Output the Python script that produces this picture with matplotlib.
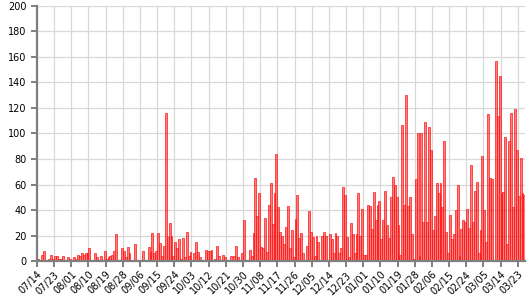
import numpy as np
import pandas as pd
import matplotlib
matplotlib.use('Agg')
import matplotlib.pyplot as plt

# daily counts starting 07/14 (one value per day)
start_date = '2022-07-14'
counts = [
    2, 0, 5, 8, 0, 1, 2, 5, 2, 4, 4, 2, 2, 4, 0, 0, 3, 2, 1, 3,
    2, 5, 4, 6, 5, 6, 6, 10, 1, 0, 6, 3, 1, 4, 0, 8, 2, 3, 4, 5,
    8, 21, 1, 0, 10, 8, 3, 11, 6, 0, 1, 13, 1, 0, 0, 8, 1, 0, 11, 7,
    22, 6, 8, 22, 14, 4, 12, 116, 19, 30, 20, 4, 15, 10, 17, 2, 18, 3, 23, 4,
    7, 0, 6, 15, 7, 3, 1, 0, 9, 8, 8, 9, 0, 2, 12, 4, 0, 5, 3, 1,
    0, 4, 0, 4, 12, 3, 0, 6, 32, 0, 0, 9, 4, 22, 65, 35, 53, 11, 10, 34,
    7, 44, 61, 29, 53, 84, 42, 23, 20, 13, 27, 43, 10, 24, 3, 33, 52, 18, 22, 6,
    0, 12, 39, 23, 19, 4, 20, 15, 1, 20, 23, 20, 0, 21, 17, 6, 22, 20, 6, 10,
    58, 52, 19, 3, 30, 21, 6, 21, 53, 20, 41, 5, 5, 44, 43, 25, 54, 32, 44, 47,
    17, 32, 55, 28, 18, 50, 66, 60, 50, 28, 5, 107, 44, 130, 43, 50, 21, 2, 64, 100,
    4, 100, 31, 109, 31, 105, 87, 24, 35, 61, 53, 61, 42, 94, 23, 6, 36, 17, 21, 40,
    60, 4, 25, 32, 31, 41, 26, 75, 31, 55, 62, 6, 24, 82, 40, 15, 115, 65, 64, 1,
    157, 114, 145, 53, 54, 97, 13, 94, 116, 42, 119, 87, 51, 81, 53, 52,
]
tick_step = 9
y_ticks = list(range(0, 201, 20))

dates = pd.date_range(start_date, periods=len(counts), freq='D')
x = np.arange(len(counts))

fig = plt.figure(figsize=(5.32, 2.96), dpi=100)
ax = fig.add_axes([0.0695, 0.118, 0.918, 0.862])

ax.bar(x, counts, width=1.0, align='edge',
       facecolor=(1, 0, 0, 0.5), edgecolor=(1, 0.1, 0.1, 0.85),
       linewidth=0.6, zorder=3)

ax.set_xlim(0, len(counts))
ax.set_ylim(0, 200)

tick_pos = x[::tick_step]
ax.set_xticks(tick_pos)
ax.set_xticklabels([d.strftime('%m/%d') for d in dates[::tick_step]],
                   rotation=45, ha='right', rotation_mode='anchor')
ax.set_yticks(y_ticks)

ax.grid(True, color='#d8d8d8', linewidth=0.9, zorder=0)
ax.set_axisbelow(True)

for side in ['top', 'right']:
    ax.spines[side].set_visible(False)
for side in ['left', 'bottom']:
    ax.spines[side].set_color('#7f7f7f')
    ax.spines[side].set_linewidth(1.6)
    ax.spines[side].set_zorder(4)

ax.tick_params(axis='both', colors='#7f7f7f', width=1.4, length=4,
               labelcolor='black', labelsize=7)
ax.tick_params(axis='x', pad=2)

fig.savefig('out.png', dpi=100)
